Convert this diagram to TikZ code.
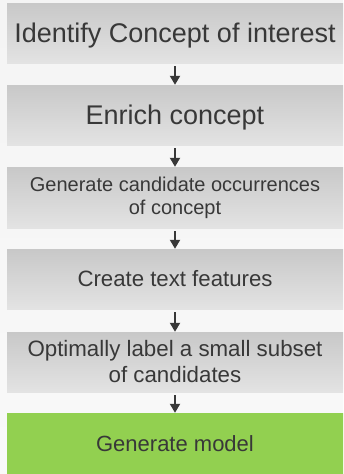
\documentclass[tikz,border=0pt]{standalone}
\usepackage{fontspec}
\setmainfont{Liberation Sans}
\usetikzlibrary{arrows.meta,positioning}
\definecolor{pagebg}{RGB}{244,244,244}
\definecolor{pagebgb}{RGB}{249,249,249}
\definecolor{boxtop}{RGB}{200,200,200}
\definecolor{boxbot}{RGB}{227,227,227}
\definecolor{stepgreen}{RGB}{146,208,80}
\definecolor{inkgray}{RGB}{56,56,56}
\tikzset{
  stepbox/.style={rectangle, minimum width=336pt, minimum height=60pt,
    inner sep=0pt, align=center, text=inkgray, draw=none,
    top color=boxtop, bottom color=boxbot},
  greenbox/.style={stepbox, top color=stepgreen, bottom color=stepgreen},
  flowarrow/.style={draw=inkgray, line width=2pt,
    -{Triangle[width=10pt,length=9pt]}, shorten <=3pt},
}
\begin{document}
\begin{tikzpicture}[x=1pt,y=-1pt]
  % page background
  \useasboundingbox (0,0) rectangle (343,474);
  \shade[top color=pagebg, bottom color=pagebgb] (0,0) rectangle (343,474);
  % process steps
  \node[stepbox, font=\fontsize{27}{31}\selectfont, text depth=0pt] (s1) at (175,33) {Identify Concept of interest};
  \node[stepbox, font=\fontsize{27}{31}\selectfont, text depth=0pt] (s2) at (175,115) {Enrich concept};
  \node[stepbox, font=\fontsize{20}{23}\selectfont, minimum height=61pt] (s3) at (175,197.5) {Generate candidate occurrences\\of concept};
  \node[stepbox, font=\fontsize{22.2}{26}\selectfont] (s4) at (175,279) {Create text features};
  \node[stepbox, font=\fontsize{22.3}{26}\selectfont] (s5) at (175,362) {Optimally label a small subset\\of candidates};
  \node[greenbox, font=\fontsize{22}{26}\selectfont, minimum height=62pt] (s6) at (175,444) {Generate model};
  % connectors
  \foreach \a/\b in {s1/s2, s2/s3, s3/s4, s4/s5, s5/s6}
    \draw[flowarrow] (\a.south) -- (\b.north);
\end{tikzpicture}
\end{document}
